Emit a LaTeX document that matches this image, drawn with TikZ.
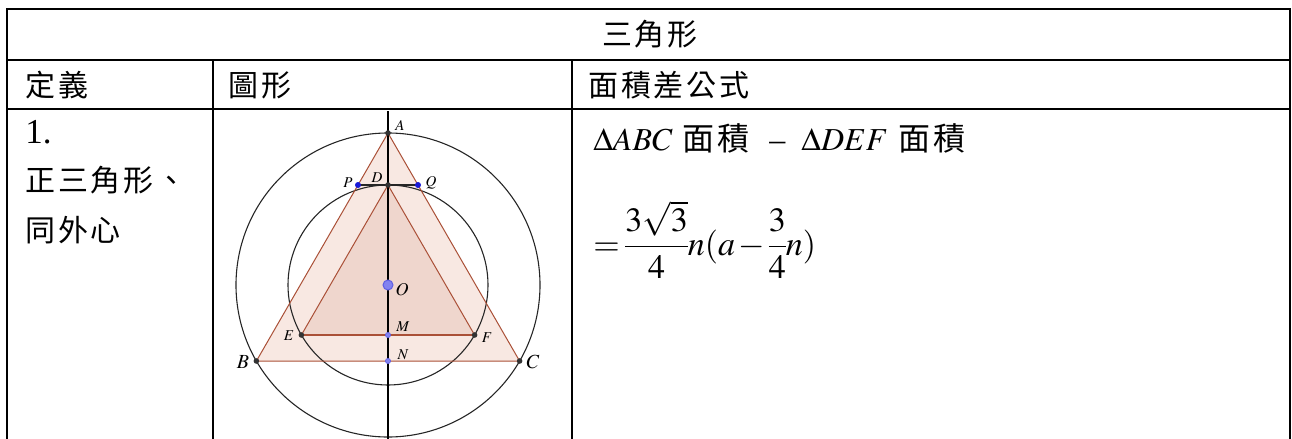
\documentclass[tikz,border=0pt]{standalone}
\usepackage{mathptmx}
\usepackage{fontspec}
\setmainfont{Liberation Serif}
\newfontfamily\cjk[LetterSpace=9]{Noto Sans CJK TC}
\usepackage{tikz}

\definecolor{geobrown}{RGB}{170,80,55}
\definecolor{bigfill}{RGB}{248,232,226}
\definecolor{smallfill}{RGB}{239,214,205}
\definecolor{ptblue}{RGB}{25,25,215}
\definecolor{ptlav}{RGB}{130,130,240}

\begin{document}
\begin{tikzpicture}[
    x=0.5pt, y=-0.5pt,
    rule/.style={line width=0.85pt},
    cjktext/.style={inner sep=0pt, font=\cjk\fontsize{15}{18}\selectfont},
    lat/.style={inner sep=0pt, font=\fontsize{16}{19}\selectfont},
    circ/.style={line width=0.55pt, black!85},
    edge/.style={line width=0.5pt, geobrown},
    dot/.style={circle, fill=black!80, inner sep=0pt, minimum size=2.8pt},
    bluedot/.style={circle, fill=ptblue, inner sep=0pt, minimum size=3pt},
    lavdot/.style={circle, fill=ptlav, draw=ptblue!70, line width=0.3pt, inner sep=0pt, minimum size=2.6pt},
    lbl/.style={inner sep=0pt, font=\fontsize{7.5}{9}\selectfont},
]
\useasboundingbox (0,0) rectangle (1292,439);

% table rules
\draw[rule] (7,439) -- (7,9) -- (1290,9) -- (1290,439);
\draw[rule] (7,60) -- (1290,60);
\draw[rule] (7,109) -- (1290,109);
\draw[rule] (213,60) -- (213,439);
\draw[rule] (572,60) -- (572,439);

% cell texts
\node[cjktext] (title) at (650,34) {三角形};
\node[cjktext, anchor=west] (defn) at (25,85) {定義};
\node[cjktext, anchor=west] (figure) at (228,85) {圖形};
\node[cjktext, anchor=west] (formula) at (588,85) {面積差公式};
\node[lat, anchor=base west, font=\fontsize{17.5}{21}\selectfont] (num) at (25,143) {1.};
\node[cjktext, anchor=west] (kind) at (25,180) {正三角形、};
\node[cjktext, anchor=west] (centre) at (25,230) {同外心};
\node[lat, anchor=base west] (diff) at (593,150)
  {$\Delta ABC$\hspace{5pt}{\cjk 面積}\hspace{10pt}–\hspace{8pt}$\Delta DEF$\hspace{5pt}{\cjk 面積}};
\node[lat, anchor=base west, font=\fontsize{17}{20}\selectfont] (result) at (593,255)
  {\thickmuskip=3mu \medmuskip=2mu \nulldelimiterspace=0pt
   $\displaystyle =\frac{3\sqrt{3}}{4}n(a-\frac{3}{4}n)$};

% figure points
\coordinate (O) at (388,285);
\coordinate (A) at (388,133);
\coordinate (B) at (256.4,361);
\coordinate (C) at (519.6,361);
\coordinate (D) at (388,185);
\coordinate (E) at (301.4,335);
\coordinate (F) at (474.6,335);
\coordinate (M) at (388,335);
\coordinate (N) at (388,361);
\coordinate (P) at (358,185);
\coordinate (Q) at (418,185);
\coordinate (top) at (388,111);
\coordinate (bottom) at (388,439);

\fill[bigfill] (A) -- (B) -- (C) -- cycle;
\fill[smallfill] (D) -- (E) -- (F) -- cycle;
\draw[circ] (O) circle [radius=152];
\draw[circ] (O) circle [radius=100];
\draw[edge] (A) -- (B) -- (C) -- cycle;
\draw[edge] (D) -- (E);
\draw[edge] (D) -- (F);
\draw[edge, line width=0.9pt] (E) -- (F);
\draw[line width=0.65pt] (top) -- (bottom);
\draw[line width=0.8pt, black!85] (P) -- (Q);

\foreach \p in {A,B,C,D,E,F}
  \node[dot] (dot\p) at (\p) {};
\node[bluedot] (dotP) at (P) {};
\node[bluedot] (dotQ) at (Q) {};
\node[lavdot] (dotM) at (M) {};
\node[lavdot] (dotN) at (N) {};
\node[lavdot, minimum size=5pt, line width=0.5pt] (dotO) at (O) {};

% labels
\node[lbl] (labA) at (400,125) {$A$};
\node[lbl, font=\fontsize{10}{12}\selectfont] (labB) at (243,362) {$B$};
\node[lbl, font=\fontsize{10}{12}\selectfont] (labC) at (533,362) {$C$};
\node[lbl] (labD) at (377,178) {$D$};
\node[lbl] (labP) at (348,183) {$P$};
\node[lbl] (labQ) at (431,183) {$Q$};
\node[lbl, font=\fontsize{9}{11}\selectfont] (labO) at (402,290) {$O$};
\node[lbl] (labM) at (403,327) {$M$};
\node[lbl] (labN) at (403,355) {$N$};
\node[lbl] (labE) at (289,336) {$E$};
\node[lbl] (labF) at (487,338) {$F$};
\end{tikzpicture}
\end{document}
